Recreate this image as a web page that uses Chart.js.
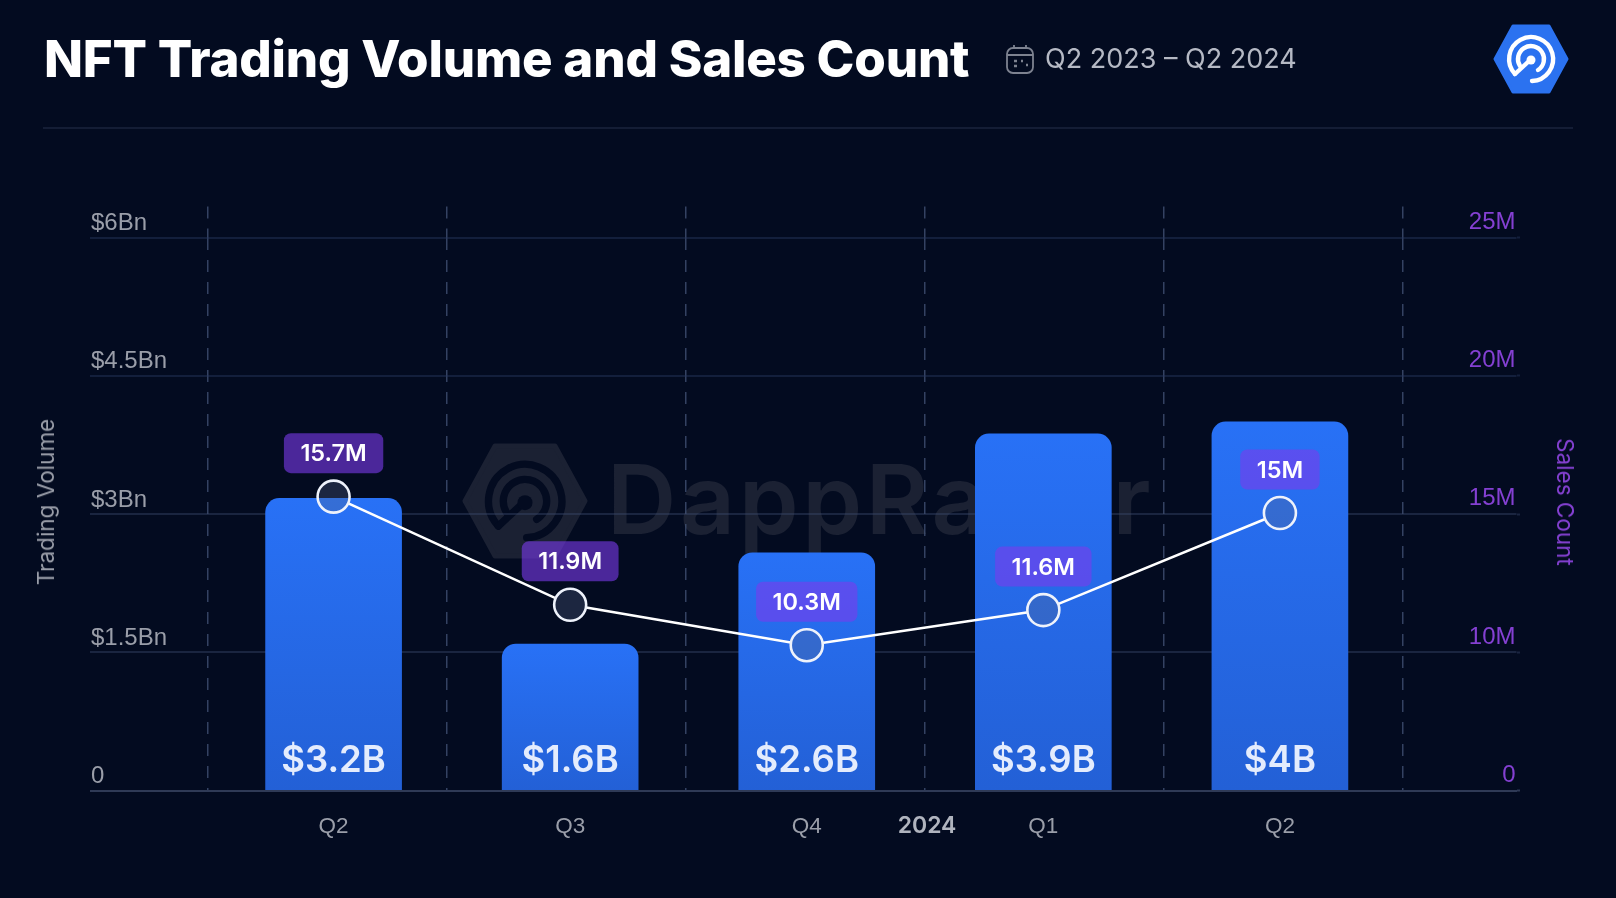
<!DOCTYPE html>
<html>
<head>
<meta charset="utf-8">
<title>NFT Trading Volume and Sales Count</title>
<script src="https://cdn.jsdelivr.net/npm/chart.js@4"></script>
<style>
  html, body { margin: 0; padding: 0; background: #030b20; }
  #page { position: relative; width: 1616px; height: 898px; overflow: hidden; font-family: Inter, sans-serif; }
  #page > * { position: absolute; }
  canvas { left: 0; top: 0; }
  h1 { margin: 0; left: 44px; top: 28px; font-size: 51px; line-height: 62px; font-weight: 800; color: #fff; letter-spacing: -0.2px; white-space: nowrap; }
  #range { left: 1045px; top: 41px; font-size: 27px; line-height: 36px; color: #b5b9c4; white-space: nowrap; }
  #rule { left: 43px; top: 126.5px; width: 1530px; height: 2px; background: #141d35; }
  .axis-title { font-size: 22.5px; line-height: 26px; white-space: nowrap; transform: translate(-50%, -50%) rotate(-90deg); }
  #leftTitle { left: 46px; top: 502px; color: #9a9ea9; }
  #rightTitle { left: 1565px; top: 502px; color: #8440d2; transform: translate(-50%, -50%) rotate(90deg); }
  #markText { left: 607px; top: 441px; font-size: 96px; line-height: 116px; font-weight: 600; color: #1b2133; letter-spacing: 3.6px; white-space: nowrap; }
  .hex { fill: var(--hex); stroke: var(--hex); stroke-width: 3; stroke-linejoin: round; }
  .ring { fill: none; stroke: var(--ring); stroke-width: 4.4; stroke-linecap: round; }
  .dot { fill: var(--ring); }
</style>
</head>
<body>
<div id="page">
  <svg width="0" height="0">
    <symbol id="logo" viewBox="-40 -36 80 72">
      <path class="hex" d="M-36 0L-18 -33L18 -33L36 0L18 33L-18 33Z"/>
      <path class="ring" d="M1 22A22 22 0 1 0 -16 15"/>
      <path class="ring" d="M7 11A13 13 0 1 0 -11 7"/>
      <path class="ring" d="M-16 15L-3 3"/>
      <circle class="dot" cx="0" cy="1" r="4.5"/>
    </symbol>
  </svg>

  <svg style="left:458px;top:441px;--hex:#1b2133;--ring:#030b20" width="134" height="120"><use href="#logo"/></svg>
  <div id="markText">DappRadar</div>

  <canvas id="chart" width="1616" height="898"></canvas>

  <h1>NFT Trading Volume and Sales Count</h1>
  <svg style="left:1005px;top:44px" width="30" height="31" viewBox="0 0 30 31" fill="none" stroke="#7d8290" stroke-width="1.8">
    <rect x="2" y="4" width="26" height="25" rx="6"/>
    <path d="M2 11H28M9 1V5M21 1V5"/>
    <path stroke-width="2.4" d="M9 17H12M16 17H18M9 22H12M21 21H23"/>
  </svg>
  <div id="range">Q2 2023 – Q2 2024</div>
  <svg style="left:1491px;top:23px;--hex:#2b72f0;--ring:#fff" width="80" height="72"><use href="#logo"/></svg>
  <div id="rule"></div>

  <div id="leftTitle" class="axis-title">Trading Volume</div>
  <div id="rightTitle" class="axis-title">Sales Count</div>
</div>

<script>
// blank first and last categories leave the empty columns at both ends
const categories = ['', 'Q2', 'Q3', 'Q4', 'Q1', 'Q2', ''];
const tradingVolume = [null, 3.17, 1.59, 2.58, 3.87, 4.0, null];
const salesCount = [null, 15.63, 11.72, 10.26, 11.53, 15.04, null];
const volumeLabels = ['', '$3.2B', '$1.6B', '$2.6B', '$3.9B', '$4B', ''];
const salesLabels = ['', '15.7M', '11.9M', '10.3M', '11.6M', '15M', ''];
const volumeTicks = ['0', '$1.5Bn', '$3Bn', '$4.5Bn', '$6Bn'];
// the reference axis skips 5M, so its lowest step is labelled 0
const salesTicks = ['0', '10M', '15M', '20M', '25M'];

const baseColor = '#2f3a56';
const dashColor = 'rgba(70, 85, 120, 0.75)';
const markerRadius = 16;

// baseline is brightest, the upper grid lines fade out
function gridLine(c) {
    if (c.index === 0) return baseColor;
    return c.index < 3 ? 'rgba(60, 75, 110, 0.42)' : 'rgba(40, 55, 95, 0.45)';
}

function barGradient(ctx) {
    const { chart, raw } = ctx;
    if (!chart.chartArea || raw == null) return '#2870f5';
    const y = chart.scales.y;
    const g = chart.ctx.createLinearGradient(0, y.getPixelForValue(raw), 0, y.bottom);
    g.addColorStop(0, '#2871f6');
    g.addColorStop(1, '#2360d6');
    return g;
}

function pill(ctx, x, y, text) {
    ctx.font = '600 23.5px Inter';
    const w = ctx.measureText(text).width + 33;
    ctx.beginPath();
    ctx.roundRect(x - w / 2, y - 20, w, 40, 7);
    ctx.fillStyle = 'rgba(124, 58, 237, 0.6)';
    ctx.fill();
    ctx.fillStyle = '#fff';
    ctx.fillText(text, x, y + 1);
}

// the line stops at the edge of each marker
const lineClip = {
    id: 'lineClip',
    beforeDatasetDraw(chart, args) {
        if (args.index !== 1) return;
        const { ctx, width, height } = chart;
        ctx.save();
        ctx.beginPath();
        ctx.rect(0, 0, width, height);
        chart.getDatasetMeta(2).data.forEach(p => {
            if (p.skip) return;
            ctx.moveTo(p.x + markerRadius, p.y);
            ctx.arc(p.x, p.y, markerRadius, 0, Math.PI * 2);
        });
        ctx.clip('evenodd');
    },
    afterDatasetDraw(chart, args) {
        if (args.index === 1) chart.ctx.restore();
    }
};

const valueLabels = {
    id: 'valueLabels',
    afterDatasetsDraw(chart) {
        const { ctx, scales } = chart;
        ctx.save();
        ctx.textAlign = 'center';
        ctx.textBaseline = 'middle';

        chart.getDatasetMeta(0).data.forEach((bar, i) => {
            if (!volumeLabels[i]) return;
            ctx.font = '600 36.5px Inter';
            ctx.fillStyle = '#e4ecfd';
            ctx.fillText(volumeLabels[i], bar.x, scales.y.bottom - 30);
        });

        chart.getDatasetMeta(2).data.forEach((p, i) => {
            if (salesLabels[i]) pill(ctx, p.x, p.y - 43.5, salesLabels[i]);
        });

        // year marker sits between Q4 and Q1
        ctx.font = '600 23px Inter';
        ctx.fillStyle = '#b0b4be';
        ctx.fillText('2024', scales.x.getPixelForValue(3.5) + 2, scales.y.bottom + 35);
        ctx.restore();
    }
};

new Chart(document.getElementById('chart'), {
    data: {
        labels: categories,
        datasets: [
            {
                type: 'bar',
                data: tradingVolume,
                yAxisID: 'y',
                order: 3,
                backgroundColor: barGradient,
                barThickness: 136,
                borderRadius: { topLeft: 14, topRight: 14 },
                borderSkipped: 'bottom'
            },
            {
                type: 'line',
                data: salesCount,
                yAxisID: 'y1',
                order: 2,
                borderColor: '#fff',
                borderWidth: 2.6,
                tension: 0,
                pointRadius: 0
            },
            {
                type: 'line',
                data: salesCount,
                yAxisID: 'y1',
                order: 1,
                showLine: false,
                pointRadius: markerRadius,
                pointBorderWidth: 2.6,
                pointBorderColor: '#eef2fb',
                pointBackgroundColor: 'rgba(86, 104, 140, 0.3)'
            }
        ]
    },
    plugins: [lineClip, valueLabels],
    options: {
        responsive: false,
        maintainAspectRatio: false,
        animation: false,
        layout: { padding: { left: 90, right: 96, top: 206.5, bottom: 47.3 } },
        plugins: { legend: { display: false }, tooltip: { enabled: false } },
        scales: {
            x: {
                type: 'category',
                offset: false,
                grid: { display: false },
                border: { color: baseColor, width: 2 },
                afterFit: scale => { scale.height = 60; },
                ticks: { color: '#9a9ea9', font: { size: 22.5 }, padding: 15, autoSkip: false, maxRotation: 0 }
            },
            // carries only the dashed column lines
            xDash: {
                type: 'linear',
                position: 'top',
                min: -0.4655,
                max: 5.478,
                ticks: { display: false, stepSize: 1, includeBounds: false },
                border: { display: false, dash: [12, 10] },
                grid: {
                    color: dashColor,
                    lineWidth: 1.5,
                    tickLength: 31,
                    tickColor: dashColor,
                    tickWidth: 1.5,
                    tickBorderDash: [12, 10]
                }
            },
            y: {
                position: 'left',
                min: 0,
                max: 6,
                border: { display: false },
                afterFit: scale => { scale.width = 7; },
                grid: {
                    color: gridLine,
                    tickColor: gridLine,
                    lineWidth: 2,
                    tickWidth: 2,
                    tickLength: 7
                },
                ticks: {
                    stepSize: 1.5,
                    mirror: true,
                    padding: -6,
                    labelOffset: -14,
                    color: '#9a9ea9',
                    font: { size: 24 },
                    callback: (v, i) => volumeTicks[i]
                }
            },
            y1: {
                position: 'right',
                min: 5,
                max: 25,
                border: { display: false },
                afterFit: scale => { scale.width = 3.5; },
                grid: {
                    drawOnChartArea: false,
                    tickColor: gridLine,
                    tickWidth: 2,
                    tickLength: 3.5
                },
                ticks: {
                    stepSize: 5,
                    mirror: true,
                    padding: -1,
                    labelOffset: -15.5,
                    color: '#8440d2',
                    font: { size: 24 },
                    callback: (v, i) => salesTicks[i]
                }
            }
        }
    }
});
</script>
</body>
</html>
